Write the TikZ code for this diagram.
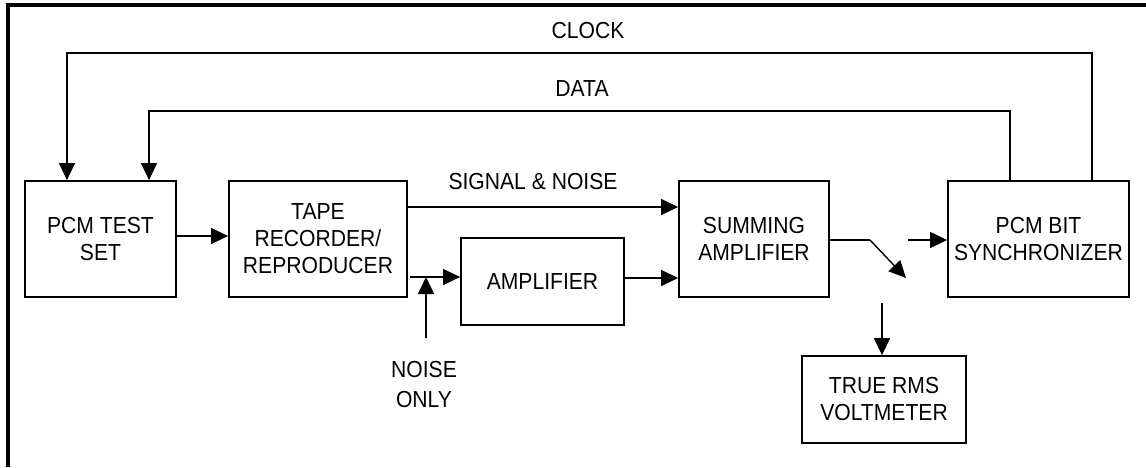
\documentclass[tikz,border=0pt]{standalone}
\usepackage{fontspec}
\setmainfont[FakeStretch=0.91]{Liberation Sans}
\usetikzlibrary{arrows.meta,calc}
\begin{document}
\begin{tikzpicture}[x=1pt,y=-1pt,
  blk/.style={draw,line width=1.8pt,align=center,inner sep=0pt,
    font=\fontsize{23.2}{27}\selectfont},
  lbl/.style={align=center,inner sep=0pt,font=\fontsize{23.2}{30}\selectfont},
  con/.style={line width=1.4pt},
  arr/.style={con,-{Triangle[length=17pt,width=16pt]}}]
\useasboundingbox (0,0) rectangle (1146,467);
\draw[line width=4.5pt] (8,467) -- (8,5) -- (1146,5);
% blocks
\node[blk,minimum width=151pt,minimum height=116pt] (pcm) at (100.5,239) {PCM TEST\\SET};
\node[blk,minimum width=178pt,minimum height=116pt] (tape) at (318,239) {TAPE\\RECORDER/\\REPRODUCER};
\node[blk,minimum width=163pt,minimum height=87pt] (amp) at (542.5,281.5) {AMPLIFIER};
\node[blk,minimum width=150pt,minimum height=116pt] (sum) at (754,239) {SUMMING\\AMPLIFIER};
\node[blk,minimum width=181pt,minimum height=116pt] (sync) at (1038.5,239) {PCM BIT\\SYNCHRONIZER};
\node[blk,minimum width=164pt,minimum height=87pt] (rms) at (884,399.5) {TRUE RMS\\VOLTMETER};
% labels
\node[lbl] (clk) at (588,31) {CLOCK};
\node[lbl] (dat) at (582,89) {DATA};
\node[lbl] (sn) at (533,182) {SIGNAL \& NOISE};
\node[lbl] (no) at (424,385) {NOISE\\ONLY};
% coordinates
\coordinate (c1) at (1092,53);
\coordinate (c2) at (67,53);
\coordinate (d1) at (1010,111);
\coordinate (d2) at (149,111);
\coordinate (sg) at (407,207);
\coordinate (tout) at (410,277);
\coordinate (nz) at (426,338);
\coordinate (ao) at (624,278);
\coordinate (so) at (829,240);
\coordinate (sw1) at (870,240);
\coordinate (sw2) at (906,278);
\coordinate (sw3) at (908,240);
\coordinate (vin) at (882,303);
\coordinate (po) at (176,236);
% connectors
\draw[arr] (c1 |- sync.north) -- (c1) -- (c2) -- (c2 |- pcm.north);
\draw[arr] (d1 |- sync.north) -- (d1) -- (d2) -- (d2 |- pcm.north);
\draw[arr] (po) -- (po -| tape.west);
\draw[arr] (sg) -- (sg -| sum.west);
\draw[arr] (tout) -- (tout -| amp.west);
\draw[arr] (nz) -- (nz |- tout);
\draw[arr] (ao) -- (ao -| sum.west);
\draw[con] (so) -- (sw1);
\draw[arr] (sw1) -- (sw2);
\draw[arr] (sw3) -- (sw3 -| sync.west);
\draw[arr] (vin) -- (vin |- rms.north);
\end{tikzpicture}
\end{document}
